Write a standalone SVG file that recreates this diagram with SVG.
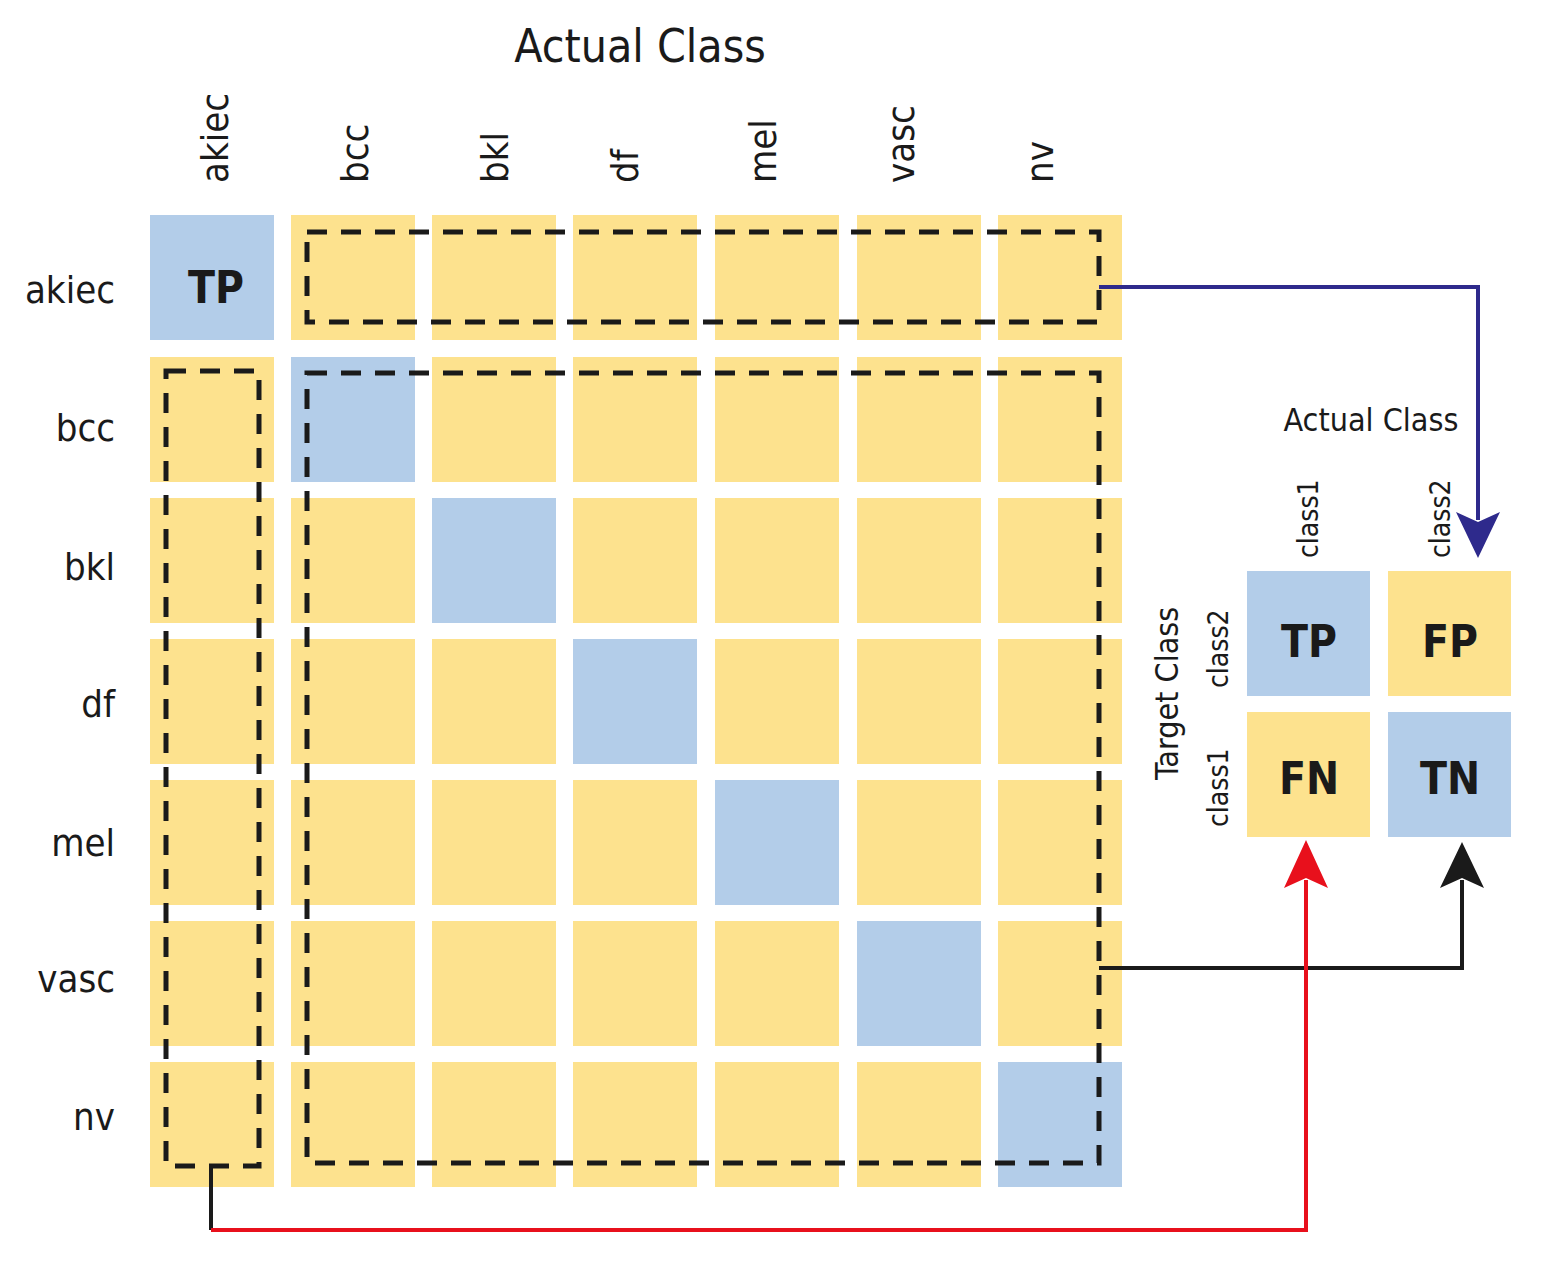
<svg xmlns="http://www.w3.org/2000/svg" width="1543" height="1276" viewBox="0 0 1543 1276">
<style>
.y{fill:#fde28e}.b{fill:#b3cde9}
.t{font-family:"DejaVu Sans Condensed","Roboto",sans-serif;fill:#1a1a1a}
.lab{font-size:38px}
.big{font-size:44px;font-weight:bold;text-anchor:middle}
.d{fill:none;stroke:#1a1a1a;stroke-width:5;stroke-dasharray:20,14}
</style>
<defs>
<marker id="ab" markerWidth="10" markerHeight="10" refX="9" refY="5" orient="auto" markerUnits="userSpaceOnUse" viewBox="0 0 10 10"><path d="M0,0L10,5L0,10L3,5z" fill="#2e2a8c"/></marker>
</defs>
<rect width="1543" height="1276" fill="#fff"/>
<text class="t" x="640" y="62" font-size="46" text-anchor="middle">Actual Class</text>
<g id="collabels" class="t lab">
<text transform="translate(228,183) rotate(-90)">akiec</text>
<text transform="translate(368,183) rotate(-90)">bcc</text>
<text transform="translate(508,183) rotate(-90)">bkl</text>
<text transform="translate(638,183) rotate(-90)">df</text>
<text transform="translate(776,183) rotate(-90)">mel</text>
<text transform="translate(914,183) rotate(-90)">vasc</text>
<text transform="translate(1053,183) rotate(-90)">nv</text>
</g>
<g id="rowlabels" class="t lab" text-anchor="end">
<text x="115" y="303">akiec</text>
<text x="115" y="441">bcc</text>
<text x="115" y="580">bkl</text>
<text x="115" y="717">df</text>
<text x="115" y="856">mel</text>
<text x="115" y="992">vasc</text>
<text x="115" y="1130">nv</text>
</g>
<g id="grid">
<rect class="b" x="150" y="215" width="124" height="125"/><rect class="y" x="291" y="215" width="124" height="125"/><rect class="y" x="432" y="215" width="124" height="125"/><rect class="y" x="573" y="215" width="124" height="125"/><rect class="y" x="715" y="215" width="124" height="125"/><rect class="y" x="857" y="215" width="124" height="125"/><rect class="y" x="998" y="215" width="124" height="125"/>
<rect class="y" x="150" y="357" width="124" height="125"/><rect class="b" x="291" y="357" width="124" height="125"/><rect class="y" x="432" y="357" width="124" height="125"/><rect class="y" x="573" y="357" width="124" height="125"/><rect class="y" x="715" y="357" width="124" height="125"/><rect class="y" x="857" y="357" width="124" height="125"/><rect class="y" x="998" y="357" width="124" height="125"/>
<rect class="y" x="150" y="498" width="124" height="125"/><rect class="y" x="291" y="498" width="124" height="125"/><rect class="b" x="432" y="498" width="124" height="125"/><rect class="y" x="573" y="498" width="124" height="125"/><rect class="y" x="715" y="498" width="124" height="125"/><rect class="y" x="857" y="498" width="124" height="125"/><rect class="y" x="998" y="498" width="124" height="125"/>
<rect class="y" x="150" y="639" width="124" height="125"/><rect class="y" x="291" y="639" width="124" height="125"/><rect class="y" x="432" y="639" width="124" height="125"/><rect class="b" x="573" y="639" width="124" height="125"/><rect class="y" x="715" y="639" width="124" height="125"/><rect class="y" x="857" y="639" width="124" height="125"/><rect class="y" x="998" y="639" width="124" height="125"/>
<rect class="y" x="150" y="780" width="124" height="125"/><rect class="y" x="291" y="780" width="124" height="125"/><rect class="y" x="432" y="780" width="124" height="125"/><rect class="y" x="573" y="780" width="124" height="125"/><rect class="b" x="715" y="780" width="124" height="125"/><rect class="y" x="857" y="780" width="124" height="125"/><rect class="y" x="998" y="780" width="124" height="125"/>
<rect class="y" x="150" y="921" width="124" height="125"/><rect class="y" x="291" y="921" width="124" height="125"/><rect class="y" x="432" y="921" width="124" height="125"/><rect class="y" x="573" y="921" width="124" height="125"/><rect class="y" x="715" y="921" width="124" height="125"/><rect class="b" x="857" y="921" width="124" height="125"/><rect class="y" x="998" y="921" width="124" height="125"/>
<rect class="y" x="150" y="1062" width="124" height="125"/><rect class="y" x="291" y="1062" width="124" height="125"/><rect class="y" x="432" y="1062" width="124" height="125"/><rect class="y" x="573" y="1062" width="124" height="125"/><rect class="y" x="715" y="1062" width="124" height="125"/><rect class="y" x="857" y="1062" width="124" height="125"/><rect class="b" x="998" y="1062" width="124" height="125"/>
<text class="t big" x="216" y="303">TP</text>
</g>
<g id="dashed">
<rect class="d" x="307" y="232" width="792" height="90"/>
<rect class="d" x="166" y="371" width="93" height="795"/>
<rect class="d" x="307" y="373" width="792" height="790"/>
</g>
<g id="small">
<text class="t" x="1371" y="431" font-size="32" text-anchor="middle">Actual Class</text>
<text class="t" font-size="28" transform="translate(1318,558) rotate(-90)">class1</text>
<text class="t" font-size="28" transform="translate(1450,558) rotate(-90)">class2</text>
<text class="t" font-size="32" transform="translate(1178,780) rotate(-90)">Target Class</text>
<text class="t" font-size="28" transform="translate(1228,688) rotate(-90)">class2</text>
<text class="t" font-size="28" transform="translate(1228,827) rotate(-90)">class1</text>
<rect class="b" x="1247" y="571" width="123" height="125"/>
<rect class="y" x="1388" y="571" width="123" height="125"/>
<rect class="y" x="1247" y="712" width="123" height="125"/>
<rect class="b" x="1388" y="712" width="123" height="125"/>
<text class="t big" x="1309" y="657">TP</text>
<text class="t big" x="1450" y="657">FP</text>
<text class="t big" x="1309" y="794">FN</text>
<text class="t big" x="1450" y="794">TN</text>
</g>
<g id="connectors" fill="none" stroke-width="4">
<path d="M1099,287H1478V520" stroke="#2e2a8c"/>
<path d="M1456,512L1478,558L1500,512L1478,522Z" fill="#2e2a8c" stroke="none"/>
<path d="M1099,968H1462V880" stroke="#1a1a1a"/>
<path d="M1440,888L1462,842L1484,888L1462,878Z" fill="#1a1a1a" stroke="none"/>
<path d="M211,1166V1230" stroke="#1a1a1a"/>
<path d="M211,1230H1306V880" stroke="#e8101c"/>
<path d="M1284,888L1306,840L1328,888L1306,878Z" fill="#e8101c" stroke="none"/>
</g>
</svg>
